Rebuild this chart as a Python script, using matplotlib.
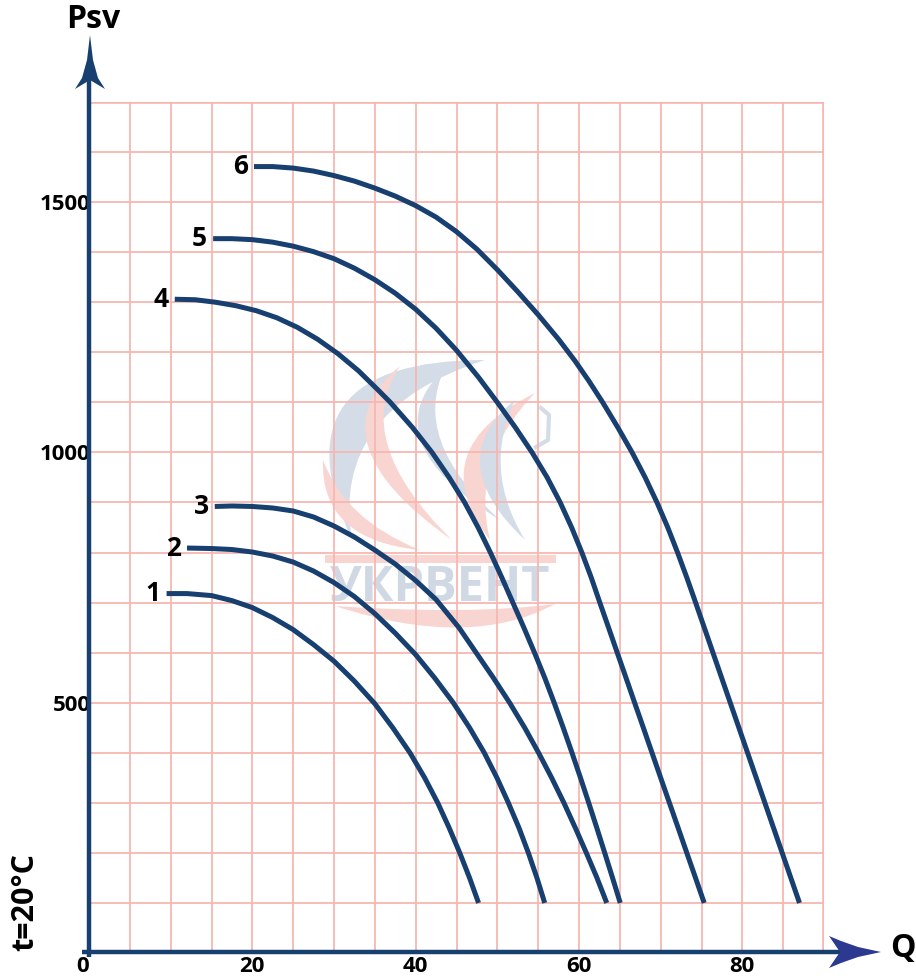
#
# Fan performance curves Psv(Q), six sizes, UKRVENT style sheet
#

import numpy as np
import matplotlib.pyplot as plt
import matplotlib.transforms as mtrans
from matplotlib.patches import Polygon, PathPatch
from matplotlib.path import Path

# curve data: Q and Psv
q1 = [9.5, 12, 15, 17.5, 20, 22.5, 25, 27.5, 30, 32.5, 35, 37.2, 39.3, 41.1, 42.7, 44.1, 45.4, 46.6, 47.7]
p1 = [718, 718, 714, 704, 690, 670, 646, 616, 583, 543, 498, 450, 400, 350, 300, 250, 200, 150, 100]

q2 = [12, 15, 17.5, 20, 22.5, 25, 27.5, 30, 32.5, 35, 37.5, 40, 42.3, 44.6, 46.6, 48.4,
      49.95, 51.35, 52.65, 53.8, 54.85, 55.8]
p2 = [809, 808, 806, 801, 793, 781, 763, 740, 712, 678, 639, 596, 550, 500, 450, 400,
      350, 300, 250, 200, 150, 100]

q3 = [15.4, 17.5, 20, 22.5, 25, 27.5, 30, 32.5, 35, 37.5, 40, 42.5, 45.3, 47.4, 49.5, 51.5,
      53.35, 55.05, 56.65, 58.15, 59.55, 60.9, 62.2, 63.4]
p3 = [892, 893, 892, 889, 883, 871, 853, 831, 805, 777, 744, 706, 650, 600, 550, 500,
      450, 400, 350, 300, 250, 200, 150, 100]

q4 = [10.5, 13, 15.5, 18, 20.5, 23, 25.5, 28, 30.5, 33, 35.5, 36.9, 39.6, 42.0, 44.1, 46.0,
      47.65, 49.15, 50.55, 51.9, 53.25, 54.55, 55.8, 56.96, 58.07, 59.14, 60.18, 61.19,
      62.18, 63.15, 64.11, 65.05]
p4 = [1306, 1305, 1300, 1293, 1283, 1269, 1250, 1226, 1197, 1163, 1123, 1100, 1050, 1000, 950, 900,
      850, 800, 750, 700, 650, 600, 550, 500, 450, 400, 350, 300,
      250, 200, 150, 100]

q5 = [15.2, 17.5, 20, 22.5, 25, 27.5, 30, 32.5, 35, 37.5, 40, 42.5, 45, 47.7, 50.0, 52.2,
      54.25, 56.1, 57.7, 59.1, 60.35, 61.5, 62.55, 63.62, 64.68, 65.75, 66.81, 67.88,
      68.94, 70.0, 71.07, 72.14, 73.2, 74.27, 75.33]
p5 = [1427, 1427, 1425, 1420, 1412, 1401, 1387, 1368, 1345, 1318, 1286, 1248, 1204, 1150, 1100, 1050,
      1000, 950, 900, 850, 800, 750, 700, 650, 600, 550, 500, 450,
      400, 350, 300, 250, 200, 150, 100]

q6 = [20.2, 22.5, 25, 27.5, 30, 32.5, 35, 37.5, 40, 42.5, 45, 47.5, 50, 52.5, 55, 57.5,
      59.5, 61.2, 62.9, 64.75, 66.5, 68.1, 69.55, 70.87, 72.07, 73.2, 74.28, 75.34, 76.4,
      77.46, 78.52, 79.58, 80.64, 81.7, 82.76, 83.82, 84.88, 85.94, 87.0]
p6 = [1571, 1571, 1568, 1562, 1553, 1542, 1528, 1512, 1493, 1470, 1441, 1406, 1365, 1321, 1275, 1226,
      1183, 1143, 1100, 1050, 1000, 950, 900, 850, 800, 750, 700, 650, 600,
      550, 500, 450, 400, 350, 300, 250, 200, 150, 100]

curves = [(q1, p1, '1'), (q2, p2, '2'), (q3, p3, '3'),
          (q4, p4, '4'), (q5, p5, '5'), (q6, p6, '6')]

xTicks = [0, 20, 40, 60, 80]
yTicks = [500, 1000, 1500]

# styles
W, H = 916, 980
lineCol = '#173f70'
gridCol = '#f7b6b0'
arrowCol = '#2b3990'
wmBlue = '#d4dce7'
wmPink = '#f9d5d1'
fnt = 'Open Sans'

fig = plt.figure(figsize=[W/100, H/100], dpi=100, facecolor='w')

# watermark logo, pixel space, under everything
wm = fig.add_axes([0, 0, 1, 1], zorder=0)
wm.set_xlim(0, W)
wm.set_ylim(H, 0)
wm.axis('off')

def crescent(p0, p1, cOut, cIn, col):
    verts = [p0, cOut, p1, cIn, p0, p0]
    codes = [Path.MOVETO, Path.CURVE3, Path.CURVE3, Path.CURVE3, Path.CURVE3, Path.CLOSEPOLY]
    wm.add_patch(PathPatch(Path(verts, codes), fc=col, ec='none'))

crescent((352, 540), (485, 360), (270, 360), (330, 410), wmBlue)
crescent((323, 460), (420, 550), (320, 540), (345, 520), wmPink)
crescent((400, 366), (452, 540), (310, 440), (350, 440), wmPink)
crescent((445, 368), (500, 520), (370, 440), (410, 440), wmBlue)
crescent((535, 393), (490, 540), (420, 450), (470, 460), wmPink)
crescent((515, 400), (525, 540), (440, 460), (482, 470), wmBlue)
crescent((335, 606), (555, 604), (470, 650), (470, 615), wmPink)
wm.plot([541, 549, 548, 536], [408, 415, 440, 447], color=wmBlue, lw=3)
wm.fill_between([325, 556], 555, 563, color=wmPink, lw=0)
wm.text(440, 588, 'УКРВЕНТ', fontsize=35, fontweight='bold', family=fnt,
        color='#cfd8e3', ha='center', va='center')

ax = fig.add_axes([89/W, 27/H, 735/W, 851/H], zorder=1)
ax.patch.set_visible(False)
ax.set_xlim(0, 90)
ax.set_ylim(0, 1700)
for s in ax.spines.values():
    s.set_visible(False)

# grid
ax.vlines(np.arange(5, 90, 5), 0, 1700, color=gridCol, lw=1.3, zorder=1)
ax.hlines(np.arange(100, 1700, 100), 0, 90, color=gridCol, lw=1.3, zorder=1)
ax.hlines(1700, 0, 90.2, color=gridCol, lw=2.6, zorder=1)
ax.vlines(90, 0, 1700, color=gridCol, lw=2.6, zorder=1)

# curves
for q, p, lab in curves:
    ax.plot(q, p, '-', color=lineCol, lw=3.6, solid_capstyle='butt',
            solid_joinstyle='round', zorder=3)
    ax.annotate(lab, (q[0], p[0]), xytext=(-6, 0), textcoords='offset pixels',
                ha='right', va='center', fontsize=19, fontweight='bold',
                family=fnt, color='k', zorder=4)

# ticks
ax.set_xticks(xTicks)
ax.set_xticklabels([str(v) for v in xTicks], fontsize=16, fontweight='bold', family=fnt)
lab0 = ax.xaxis.get_ticklabels()[0]
lab0.set_horizontalalignment('right')
lab0.set_transform(lab0.get_transform() + mtrans.ScaledTranslation(-0.03, 0, fig.dpi_scale_trans))
ax.set_yticks(yTicks)
ax.set_yticklabels([str(v) for v in yTicks], fontsize=16, fontweight='bold', family=fnt)
ax.tick_params(axis='both', length=0)
ax.tick_params(axis='x', pad=2)
ax.tick_params(axis='y', pad=-1)

# axis lines and arrow heads, drawn in pixel space on an overlay
deco = fig.add_axes([0, 0, 1, 1], zorder=5)
deco.set_xlim(0, W)
deco.set_ylim(H, 0)
deco.axis('off')
deco.patch.set_visible(False)
deco.plot([89, 89], [957, 80], color=lineCol, lw=3.2, solid_capstyle='butt')
deco.plot([82, 840], [952, 952], color=lineCol, lw=3.2, solid_capstyle='butt')
deco.add_patch(Polygon([(90, 35), (87, 60), (82, 78), (75, 89), (90, 80),
                        (105, 89), (98, 78), (93, 60)], closed=True,
                       fc=lineCol, ec='none'))
deco.add_patch(Polygon([(881, 952), (858, 947), (841, 941), (829, 936), (840, 952),
                        (829, 968), (841, 963), (858, 957)], closed=True,
                       fc=arrowCol, ec='none'))

fig.text(93/W, 1 - 19/H, 'Psv', fontsize=23, fontweight='bold', family=fnt,
         ha='center', va='center')
fig.text(890/W, 1 - 948/H, 'Q', fontsize=23, fontweight='bold', family=fnt,
         ha='left', va='center')
fig.text(25/W, 1 - 902/H, 't=20°C', fontsize=22, fontweight='bold', family=fnt,
         ha='center', va='center', rotation=90)

plt.savefig('out.png', dpi=100, facecolor='w')
